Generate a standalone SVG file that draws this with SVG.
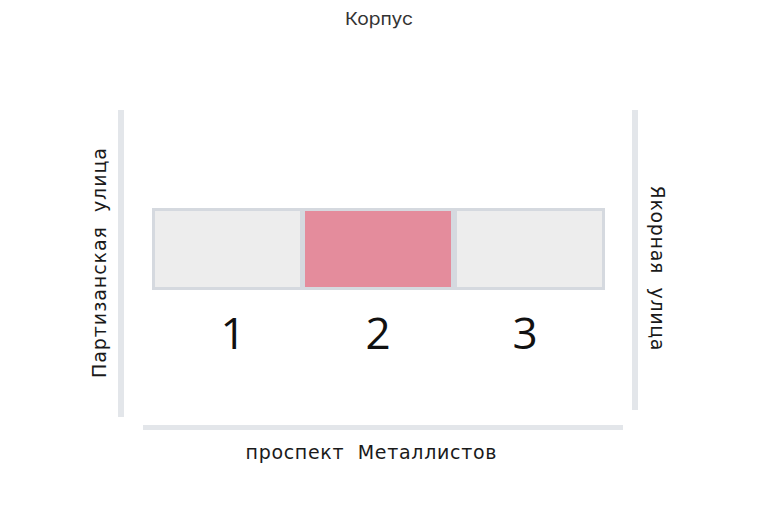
<svg xmlns="http://www.w3.org/2000/svg" width="758" height="518" viewBox="0 0 758 518">
<style>
.bar{fill:#e3e6ea}
.cell{fill:#ededed;stroke:#d5d9df;stroke-width:3}
.hl{fill:#e48c9c}
.t{font-family:"DejaVu Sans","Liberation Sans",sans-serif;fill:#1a1a1a}
.num{font-family:"Open Sans","Liberation Sans",sans-serif;font-size:44px;fill:#111;text-anchor:middle}
</style>
<rect width="758" height="518" fill="#fff"/>
<text x="379" y="25" font-family="Inter,'Liberation Sans',sans-serif" font-size="17" text-anchor="middle" fill="#333" textLength="68" lengthAdjust="spacingAndGlyphs">Корпус</text>
<g id="streets">
<rect class="bar" x="118" y="110" width="6" height="307"/>
<rect class="bar" x="632" y="110" width="6" height="300"/>
<rect class="bar" x="143" y="425" width="480" height="5"/>
</g>
<g id="cell1"><rect class="cell" x="153.5" y="209.5" width="148" height="79"/></g>
<g id="cell2"><rect class="cell hl" x="303.5" y="209.5" width="149" height="79"/></g>
<g id="cell3"><rect class="cell" x="455.5" y="209.5" width="148" height="79"/></g>
<text class="num" x="233" y="349">1</text>
<text class="num" x="378" y="349">2</text>
<text class="num" x="525" y="349">3</text>
<text class="t" font-size="19" text-anchor="middle" transform="translate(106,263) rotate(-90)" xml:space="preserve" textLength="230" lengthAdjust="spacing">Партизанская  улица</text>
<text class="t" font-size="19" text-anchor="middle" transform="translate(651,268) rotate(90)" xml:space="preserve" textLength="165" lengthAdjust="spacing">Якорная  улица</text>
<text class="t" font-size="19" x="371" y="459" text-anchor="middle" xml:space="preserve" textLength="251" lengthAdjust="spacing">проспект  Металлистов</text>
</svg>
